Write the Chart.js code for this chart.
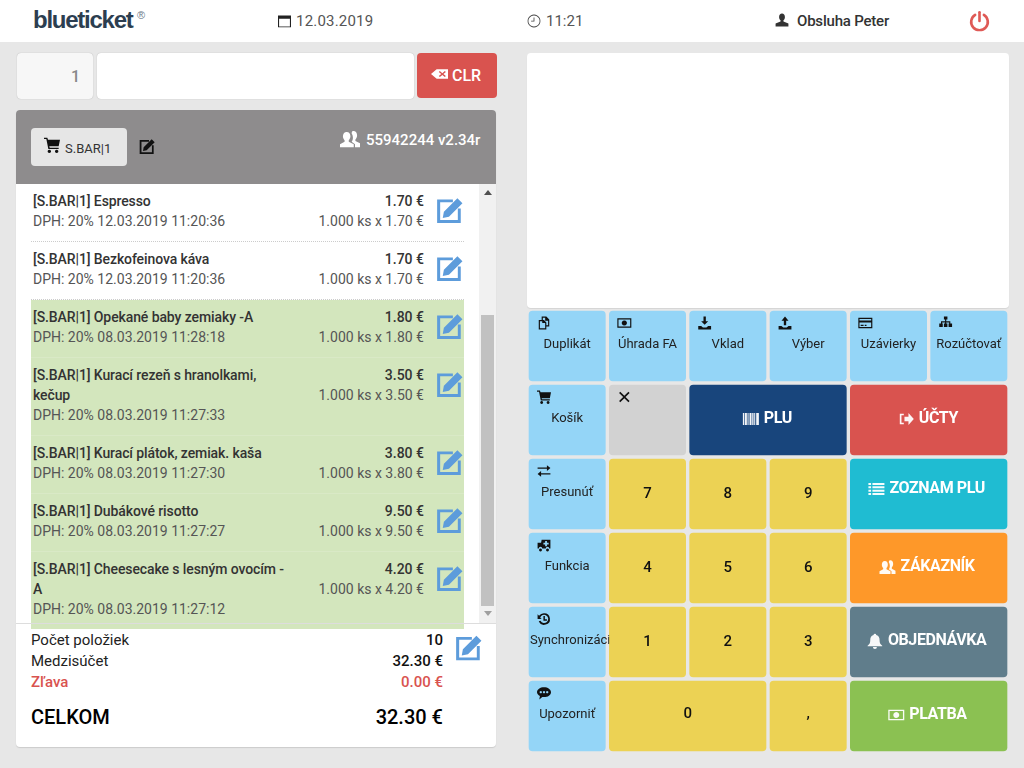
<!DOCTYPE html>
<html lang="sk"><head><meta charset="utf-8">
<script src="https://cdn.jsdelivr.net/npm/chart.js@4"></script>
<style>
html,body{margin:0;padding:0;width:1024px;height:768px;overflow:hidden;background:#e7e7e7;font-family:Roboto,sans-serif;color:#333}
.a{position:absolute;white-space:nowrap}
.c{transform:translateY(-50%)}
svg{display:block}
#list{position:absolute;left:31px;top:184px;width:433px}
.row{position:relative;padding:7px 0 10px 2px;line-height:20px;font-size:14px;height:auto;box-sizing:border-box}
.row .t{width:252px;font-weight:500;color:#333;letter-spacing:-.1px}
.row .s{color:#555;white-space:nowrap}
.row .p{position:absolute;right:40px;top:7px;font-weight:500;text-align:right}
.row .q{position:absolute;right:40px;top:27px;color:#555;text-align:right}
.row .i{position:absolute;left:405px;top:12px}
.row.done{background:#d3e6bd}
.row.sep{border-bottom:1px dotted #ccc}
.row.done.sep{border-bottom:1px solid #d9e9c6}
</style></head><body>
<div class="a" style="left:0;top:0;width:1024px;height:42px;background:#fff"></div>
<div class="a" style="left:527px;top:53px;width:482px;height:255px;background:#fff;border-radius:4px;box-shadow:0 1px 1px rgba(0,0,0,.08)"></div>
<div class="a" style="left:17px;top:53px;width:76px;height:46px;background:#f7f7f7;border-radius:4px;box-shadow:0 0 1px rgba(0,0,0,.3)"></div>
<div class="a" style="left:97px;top:53px;width:317px;height:46px;background:#fff;border-radius:4px;box-shadow:0 0 1px rgba(0,0,0,.3)"></div>
<div class="a" style="left:417px;top:53px;width:80px;height:45px;background:#d9534f;border-radius:4px"></div>
<div class="a" style="left:16px;top:110px;width:480px;height:637px;background:#fff;border-radius:4px;box-shadow:0 1px 1px rgba(0,0,0,.12)"></div>
<div class="a" style="left:16px;top:110px;width:480px;height:74px;background:#8e8c8d;border-radius:4px 4px 0 0"></div>
<div class="a" style="left:31px;top:128px;width:96px;height:38px;background:#e6e6e6;border-radius:4px"></div>
<div class="a" style="left:479px;top:184px;width:17px;height:439px;background:#f1f1f1"></div>
<div class="a" style="left:481px;top:315px;width:13px;height:291px;background:#c1c1c1"></div>
<div class="a" style="left:484px;top:190px;width:0;height:0;border:4px solid transparent;border-top:0;border-bottom:5px solid #505050"></div>
<div class="a" style="left:484px;top:611px;width:0;height:0;border:4px solid transparent;border-bottom:0;border-top:5px solid #a0a0a0"></div>
<div id="list"></div>
<div class="a" style="left:16px;top:623px;width:480px;height:1px;background:#ddd"></div>
<div id="dom"></div>
<canvas id="keys" width="482" height="444" style="position:absolute;left:527px;top:309px;width:482px;height:444px"></canvas>
<script>
// ---- data ----
const headerDate = '12.03.2019';
const headerTime = '11:21';
const operatorName = 'Obsluha Peter';
const cartName = 'S.BAR|1';
const terminalInfo = '55942244 v2.34r';
const quantityValue = '1';

const itemNames = ['[S.BAR|1] Espresso','[S.BAR|1] Bezkofeinova káva','[S.BAR|1] Opekané baby zemiaky -A','[S.BAR|1] Kurací rezeň s hranolkami, kečup','[S.BAR|1] Kurací plátok, zemiak. kaša','[S.BAR|1] Dubákové risotto','[S.BAR|1] Cheesecake s lesným ovocím - A'];
const itemPrices = ['1.70','1.70','1.80','3.50','3.80','9.50','4.20'];
const itemStamps = ['12.03.2019 11:20:36','12.03.2019 11:20:36','08.03.2019 11:28:18','08.03.2019 11:27:33','08.03.2019 11:27:30','08.03.2019 11:27:27','08.03.2019 11:27:12'];
const itemSent = [false,false,true,true,true,true,true];

const summaryLabels = ['Počet položiek','Medzisúčet','Zľava'];
const summaryValues = ['10','32.30 €','0.00 €'];
const totalLabel = 'CELKOM';
const totalValue = '32.30 €';

const keyRowNames = ['A','B','C','D','E','F'];
const keyLabels = [
  ['Duplikát','Úhrada FA','Vklad','Výber','Uzávierky','Rozúčtovať'],
  ['Košík','','PLU','ÚČTY'],
  ['Presunúť','7','8','9','ZOZNAM PLU'],
  ['Funkcia','4','5','6','ZÁKAZNÍK'],
  ['Synchronizácia','1','2','3','OBJEDNÁVKA'],
  ['Upozorniť','0',',','PLATBA']
];
const keySpans = [
  [1,1,1,1,1,1],
  [1,1,2,2],
  [1,1,1,1,2],
  [1,1,1,1,2],
  [1,1,1,1,2],
  [1,2,1,2]
];
const keyIcons = [
  ['copy','money','download','upload','card','tree'],
  ['cart','x','barcode','share'],
  ['arrows',null,null,null,'list'],
  ['ambulance',null,null,null,'users'],
  ['history',null,null,null,'bell'],
  ['comment',null,null,'money']
];

// ---- styles ----
const ICONS = {
  edit:'M1 3h14v2.600H3.700v15.700h15.700V11H22v13H1z M7 14L19 2l4.500 4.500-12 12-5.500 1z',
  cart:'M0 1h5l1 3h18l-2 10H8l.5 2H22v2H6.500L3.500 3H0z M8 19a2.500 2.500 0 1 0 .01 0z M19 19a2.500 2.500 0 1 0 .01 0z',
  calendar:'M0 2h24v22H0z M2 8v14h20V8z',
  clock:'M12 1a11 11 0 1 0 .01 0z M12 2.400a9.600 9.600 0 1 1-.01 0z M11.300 6h1.400v7H7v-1.400h4.300z',
  user:'M12 1c3 0 5 2.500 5 6 0 2.500-1 4.500-2.500 5.500v2L23 18v5H1v-5l8.500-3.500v-2C8 11.500 7 9.500 7 7c0-3.500 2-6 5-6z',
  users:'M8 3c3 0 4.500 2.500 4.500 5.500 0 2-1 4-2 5v2l6 3v4H0v-4l5.500-3v-2c-1-1-2-3-2-5C3.500 5.500 5 3 8 3z M16 2c3 0 4.500 2.500 4.500 5.500 0 2-1 4-2 5v2l5.500 3v5h-6v-4l-4-3c1-1.500 1.500-3 1.500-5 0-2-.5-4-1.500-5.500C14 2.700 15 2 16 2z',
  backspace:'M8 4h16v16H8l-8-8z M11 8.500l3.500 3.500-3.500 3.500 1.500 1.500 3.500-3.500 3.500 3.500 1.500-1.500-3.500-3.500 3.500-3.500-1.500-1.500-3.500 3.500-3.500-3.500z',
  copy:'M8 1h8l5 5v12h-5v5H3V7h5z M10 3v4h2l4 4v5h3V8h-5V3z M5 9v12h9v-9h-5V9z',
  money:'M0 4h24v16H0z M2 6v12h20V6z M12 7.500a4.500 4.500 0 1 0 .01 0z',
  download:'M10 1h4v8h4l-6 6-6-6h4z M1 17h5l3 2.500h6l3-2.500h5v6H1z',
  upload:'M12 1l6 7h-4v8h-4V8H6z M1 17h5l3 2.500h6l3-2.500h5v6H1z',
  card:'M0 3h24v18H0z M2 5v2.500h20V5z M2 11v8h20v-8z M4 15h5v2H4z M11 15h3v2h-3z',
  tree:'M9 1h6v5h-2v3h7v4h3v6h-6v-6h1v-2h-5v2h2v6H9v-6h2v-2H6v2h1v6H1v-6h3V9h7V6H9z',
  x:'M3 5l2-2 7 7 7-7 2 2-7 7 7 7-2 2-7-7-7 7-2-2 7-7z',
  arrows:'M1 6h16V2l6 5-6 5V8H1z M23 16H7v-4l-6 5 6 5v-4h16z',
  ambulance:'M1 8h6l1-5h15v15h-2a3 3 0 0 0-6 0H9a3 3 0 0 0-6 0H1z M14 5v3h-3v3h3v3h3v-3h3V8h-3V5z M6 18a2.500 2.500 0 1 0 .01 0z M18 18a2.500 2.500 0 1 0 .01 0z',
  history:'M12 2a10 10 0 1 1-9 14l3-1a7 7 0 1 0-.5-5L8 12H1V4l2.500 2.500A10 10 0 0 1 12 2z M11 7h2.500v5.500H17V15h-6z',
  comment:'M12 2c6.600 0 12 3.600 12 8.500S18.600 19 12 19c-1 0-2 0-3-.2L4 23l1-6c-3-1.500-5-4-5-6.500C0 5.600 5.400 2 12 2z M6.500 8.500a2 2 0 1 0 .01 0z M12 8.500a2 2 0 1 0 .01 0z M17.500 8.500a2 2 0 1 0 .01 0z',
  barcode:'M0 3h2v18H0z M3 3h3v18H3z M7 3h1.500v18H7z M10 3h3v18h-3z M14 3h2v18h-2z M17 3h1.500v18H17z M20 3h4v18h-4z',
  share:'M9 4H3v16h6v-2.500H5.500v-11H9z M10 8.500h6V3l8 9-8 9v-5.500h-6z',
  list:'M0 3h4v3H0z M6 3h18v3H6z M0 8h4v3H0z M6 8h18v3H6z M0 13h4v3H0z M6 13h18v3H6z M0 18h4v3H0z M6 18h18v3H6z',
  bell:'M12 1a2 2 0 0 1 2 2c4 1 5 4 5 8 0 4 1 6 4 8v1H1v-1c3-2 4-4 4-8 0-4 1-7 5-8a2 2 0 0 1 2-2z M9 21h6a3 3 0 0 1-6 0z'
};
const BLUE='#94d5f7',YEL='#ecd254',GREY='#d2d2d2',NAVY='#18457c',RED='#d9534f',TEAL='#1fbcd2',ORANGE='#fe9829',SLATE='#607d8b',GREEN='#8bc152';
const keyColours = [
  [BLUE,BLUE,BLUE,BLUE,BLUE,BLUE],
  [BLUE,GREY,NAVY,RED],
  [BLUE,YEL,YEL,YEL,TEAL],
  [BLUE,YEL,YEL,YEL,ORANGE],
  [BLUE,YEL,YEL,YEL,SLATE],
  [BLUE,YEL,YEL,GREEN]
];
const svg=(n,w,c,h)=>`<svg width="${w}" height="${h||w}" viewBox="0 0 24 24" preserveAspectRatio="none"><path fill="${c}" fill-rule="evenodd" d="${ICONS[n]}"/></svg>`;

// ---- page chrome built from the values ----
const dom=document.getElementById('dom');
const put=(x,y,html,css='')=>{const d=document.createElement('div');d.className='a c';d.style.cssText=`left:${x}px;top:${y}px;${css}`;d.innerHTML=html;dom.appendChild(d);};
const putR=(x,y,html,css='')=>put(0,y,html,`left:auto;right:${1024-x}px;${css}`);
put(33,20,'blueticket','font:bold 24px "Liberation Sans",sans-serif;letter-spacing:-1.25px;color:#2c3e50');
put(137,15,'®','font:11px "Liberation Sans",sans-serif;color:#6c7a89');
put(278,21,svg('calendar',13,'#222'));
put(296,20.500,headerDate,'font-size:15px;color:#555;letter-spacing:.2px');
put(527,21,svg('clock',14,'#444'));
put(546,20.500,headerTime,'font-size:15px;color:#555');
put(775,20,svg('user',14,'#333'));
put(797,20.500,operatorName,'font-size:15px;color:#333;font-weight:500;letter-spacing:-.2px');
put(969,20.500,'<svg width="21" height="21" viewBox="0 0 24 24" fill="none" stroke="#df5a56" stroke-width="3" stroke-linecap="round"><path d="M7 5a9.500 9.500 0 1 0 10 0"/><path d="M12 2v10"/></svg>');
putR(80,76,quantityValue,'font-size:16px;font-weight:500;color:#888');
put(431,74,svg('backspace',17,'#fff',14));
put(452,75,'CLR','font-size:16px;font-weight:500;color:#fff');
put(44,145,svg('cart',16,'#111'));
put(65,148,cartName,'font-size:13px;color:#333');
put(139,146,svg('edit',16,'#111'));
put(340,139,svg('users',20,'#fff',19));
put(366,140,terminalInfo,'font-size:15px;font-weight:500;color:#fff');

const list=document.getElementById('list');
itemNames.forEach((n,i)=>{
  const r=document.createElement('div');
  r.className='row'+(itemSent[i]?' done':'')+(i<itemNames.length-1?' sep':'');
  r.innerHTML=`<div class="t">${n}</div><div class="s">DPH: 20% ${itemStamps[i]}</div><div class="p">${itemPrices[i]} €</div><div class="q">1.000 ks x ${itemPrices[i]} €</div><div class="i">${svg('edit',27,'#5d9cdb')}</div>`;
  list.appendChild(r);
});

summaryLabels.forEach((l,i)=>{
  const y=640+21*i, col=i===2?'#d9534f':'#222';
  put(31,y,l,`font-size:15px;color:${col};${i===2?'font-weight:500;':''}`);
  putR(443,y,summaryValues[i],`font-size:15px;font-weight:500;color:${i===2?col:'#111'}`);
});
put(455,647,svg('edit',27,'#5d9cdb'));
put(31,717,totalLabel,'font-size:20px;font-weight:500;color:#000');
putR(443,717,totalValue,'font-size:20px;font-weight:500;color:#000');

// ---- keypad: floating horizontal bars on a column scale ----
const slots=Math.max(...keySpans.map(r=>r.length));
const datasets=[];
for(let s=0;s<slots;s++){
  datasets.push({
    data:keySpans.map(r=>{ if(s>=r.length) return null; const a=r.slice(0,s).reduce((p,q)=>p+q,0); return [a,a+r[s]]; }),
    backgroundColor:keyColours.map(r=>r[s]||'transparent'),
    borderColor:'#e7e7e7',borderWidth:2,borderRadius:6,borderSkipped:false,
    grouped:false,barPercentage:1,categoryPercentage:1
  });
}
const paintIcon=(ctx,name,x,y,w,h,c)=>{ctx.save();ctx.translate(x,y);ctx.scale(w/24,h/24);ctx.fillStyle=c;ctx.fill(new Path2D(ICONS[name]),'evenodd');ctx.restore();};
const keyText={
  id:'keyText',
  afterDatasetsDraw(chart){
    const ctx=chart.ctx;
    chart.data.datasets.forEach((ds,s)=>{
      const bars=chart.getDatasetMeta(s).data;
      keyLabels.forEach((row,r)=>{
        if(s>=row.length) return;
        const el=bars[r]; const L=el.base+2, R=el.x-2, T=el.y-el.height/2+2, cx=(L+R)/2, cy=el.y;
        const text=row[s], icon=keyIcons[r][s], span=keySpans[r][s];
        ctx.save();
        ctx.textBaseline='middle';
        if(span===2 && s>=2 || (span===2 && r===1)){
          ctx.font='bold 16px Roboto';
          const w=ctx.measureText(text).width, iw=16, gap=5;
          const x0=cx-(w+iw+gap)/2, dy=(text==='ZOZNAM PLU')?-5:-1;
          paintIcon(ctx,icon,x0,cy+dy-8,iw,16,'rgba(255,255,255,.95)');
          ctx.fillStyle='#fff';ctx.letterSpacing='-.4px';
          ctx.textAlign='left';ctx.fillText(text,x0+iw+gap,cy+dy);
        } else if(icon){
          paintIcon(ctx,icon,L+8,T+5,14,14,'#111');
          ctx.font='13px Roboto';ctx.fillStyle='#222';
          const w=ctx.measureText(text).width;
          if(w>R-L){
            ctx.beginPath();ctx.rect(L,T,R-L+4,el.height-4);ctx.clip();
            ctx.textAlign='left';ctx.fillText(text,L+1,T+34);
          } else {
            ctx.textAlign='center';ctx.fillText(text,cx,T+34);
          }
        } else if(text){
          ctx.font='500 15px Roboto';ctx.fillStyle='#111';ctx.textAlign='center';
          ctx.fillText(text,cx,r===5?cy-2:cy);
        }
        ctx.restore();
      });
      // the clear key has an icon only, centred
    });
  }
};
new Chart(document.getElementById('keys'),{
  type:'bar',
  data:{labels:keyRowNames,datasets},
  options:{
    indexAxis:'y',responsive:false,animation:false,events:[],
    layout:{padding:0},
    scales:{
      x:{type:'linear',min:0,max:6,display:false},
      y:{type:'category',display:false,grid:{display:false}}
    },
    plugins:{legend:{display:false},tooltip:{enabled:false},title:{display:false}}
  },
  plugins:[keyText]
});
</script></body></html>
